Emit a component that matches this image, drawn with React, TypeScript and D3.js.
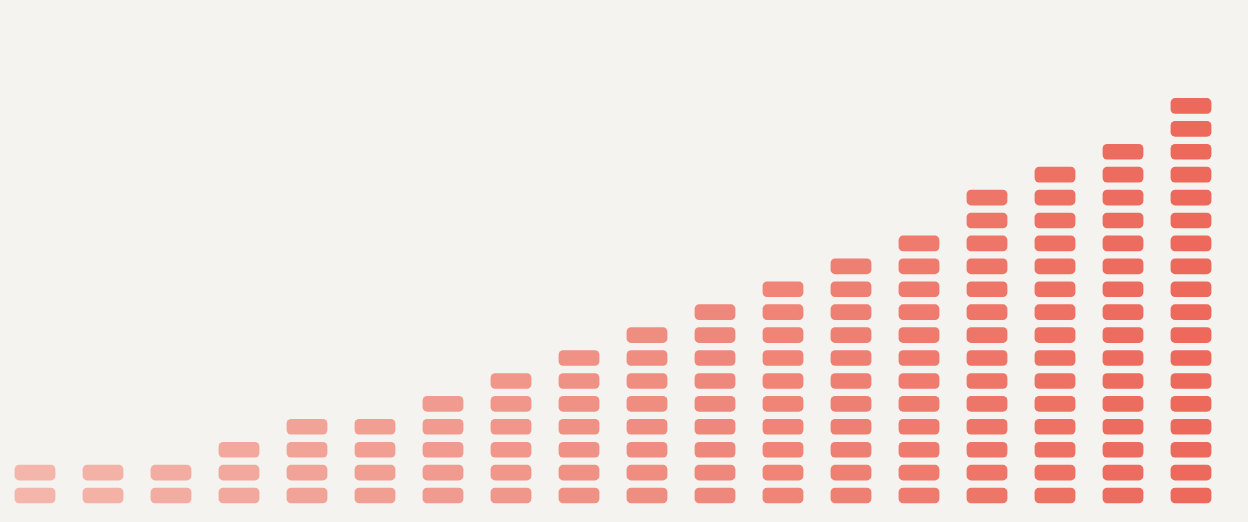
import React, { useEffect, useRef } from 'react';
import * as d3 from 'd3';

// units stacked per column, left to right
const columns = ['c1', 'c2', 'c3', 'c4', 'c5', 'c6', 'c7', 'c8', 'c9', 'c10', 'c11', 'c12', 'c13', 'c14', 'c15', 'c16', 'c17', 'c18'];
const counts = [2, 2, 2, 3, 4, 4, 5, 6, 7, 8, 9, 10, 11, 12, 14, 15, 16, 18];

const WIDTH = 1248;
const HEIGHT = 522;

const UnitBars: React.FC = () => {
  const svgRef = useRef<SVGSVGElement>(null);

  useEffect(() => {
    if (!svgRef.current) return;
    const svg = d3.select(svgRef.current);
    svg.selectAll('*').remove();

    svg.append('rect')
      .attr('width', WIDTH)
      .attr('height', HEIGHT)
      .attr('fill', '#f5f3ef');

    const x = d3.scaleBand<string>()
      .domain(columns)
      .range([1, 1225])
      .paddingInner(0.4)
      .paddingOuter(0.2);

    const y = d3.scaleLinear()
      .domain([0, 20])
      .range([507, 48.6]);

    const gap = 7.3;
    const unitH = Math.abs(y(0) - y(1)) - gap;

    // light salmon on the left to full coral on the right
    const color = d3.scaleLinear<string>()
      .domain([0, columns.length - 1])
      .range(['#f4b5ab', '#ec695b'])
      .interpolate(d3.interpolateRgb);

    const cols = svg.append('g')
      .selectAll('g')
      .data(columns.map((c, i) => ({ id: c, n: counts[i], i })))
      .join('g')
      .attr('transform', d => `translate(${x(d.id)},0)`)
      .attr('fill', d => color(d.i));

    cols.selectAll('rect')
      .data(d => d3.range(d.n))
      .join('rect')
      .attr('x', 0)
      .attr('y', k => y(k + 1) + gap / 2)
      .attr('width', x.bandwidth())
      .attr('height', unitH)
      .attr('rx', 4.5);
  }, []);

  return <svg ref={svgRef} width={WIDTH} height={HEIGHT} style={{ display: 'block' }} />;
};

export default function App() {
  useEffect(() => {
    document.body.style.margin = '0';
  }, []);
  return <UnitBars />;
}
